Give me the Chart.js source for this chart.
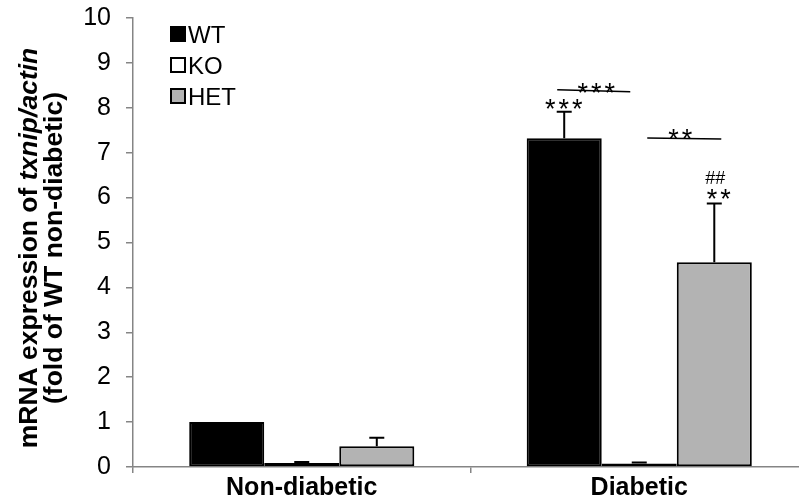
<!DOCTYPE html>
<html>
<head>
<meta charset="utf-8">
<script src="https://cdn.jsdelivr.net/npm/chart.js@4/dist/chart.umd.min.js"></script>
<style>
  html, body { margin: 0; padding: 0; background: #fff; overflow: hidden; }
  #wrap { width: 810px; height: 500px; position: relative; }
</style>
</head>
<body>
<div id="wrap"><canvas id="c" width="810" height="500"></canvas></div>
<script>
// Groups and genotypes
const categories = ['Non-diabetic', 'Diabetic'];
const genotypes = ['WT', 'KO', 'HET'];

// Mean txnip/actin expression (fold of WT non-diabetic) and SEM
const wtMean  = [1.00, 7.32];
const wtErr   = [0.00, 0.59];
const koMean  = [0.09, 0.08];
const koErr   = [0.02, 0.02];
const hetMean = [0.46, 4.56];
const hetErr  = [0.19, 1.31];

const yTicks = [0, 1, 2, 3, 4, 5, 6, 7, 8, 9, 10];

const FONT = '"Liberation Sans", Arial, sans-serif';
const AXIS_GREY = '#858585';

const fills   = ['#000000', '#ffffff', '#b3b3b3'];
const means   = [wtMean, koMean, hetMean];
const errs    = [wtErr, koErr, hetErr];

// Upward error bars for every bar
const errorBars = {
  id: 'errorBars',
  afterDatasetsDraw(chart) {
    const ctx = chart.ctx;
    const y = chart.scales.y;
    ctx.save();
    ctx.strokeStyle = '#000';
    ctx.lineWidth = 2;
    chart.data.datasets.forEach((ds, di) => {
      const meta = chart.getDatasetMeta(di);
      meta.data.forEach((bar, i) => {
        const e = errs[di][i];
        if (!e) return;
        const top = y.getPixelForValue(means[di][i] + e);
        const base = y.getPixelForValue(means[di][i]);
        ctx.beginPath();
        ctx.moveTo(bar.x, base);
        ctx.lineTo(bar.x, top);
        ctx.moveTo(bar.x - 7.5, top);
        ctx.lineTo(bar.x + 7.5, top);
        ctx.stroke();
      });
    });
    ctx.restore();
  }
};

// Significance marks above the diabetic bars
const significance = {
  id: 'significance',
  afterDatasetsDraw(chart) {
    const ctx = chart.ctx;
    const y = chart.scales.y;
    const bx = (di, i) => chart.getDatasetMeta(di).data[i].x;
    ctx.save();
    ctx.fillStyle = '#000';
    ctx.strokeStyle = '#000';
    ctx.lineWidth = 1.5;
    ctx.textAlign = 'center';
    ctx.textBaseline = 'alphabetic';
    ctx.font = '27px ' + FONT;
    ctx.letterSpacing = '3px';

    // stars over WT diabetic
    const wtTop = y.getPixelForValue(wtMean[1] + wtErr[1]);
    ctx.fillText('***', bx(0, 1) + 1, wtTop + 6);

    // WT vs KO bracket
    const l1 = y.getPixelForValue(8.38);
    ctx.beginPath();
    ctx.moveTo(bx(0, 1) - 7, l1 - 1);
    ctx.lineTo(bx(1, 1) - 9, l1 + 1);
    ctx.stroke();
    ctx.fillText('***', (bx(0, 1) + bx(1, 1)) / 2 - 4, l1 + 11);

    // KO vs HET bracket
    const l2 = y.getPixelForValue(7.33);
    ctx.beginPath();
    ctx.moveTo(bx(1, 1) + 8, l2);
    ctx.lineTo(bx(2, 1) + 7, l2 + 1);
    ctx.stroke();
    ctx.fillText('**', (bx(1, 1) + bx(2, 1)) / 2 + 5, l2 + 10);

    // stars and hashes over HET diabetic
    const hetTop = y.getPixelForValue(hetMean[1] + hetErr[1]);
    ctx.fillText('**', bx(2, 1) + 6, hetTop + 5);
    ctx.letterSpacing = '0px';
    ctx.font = '18px ' + FONT;
    ctx.fillText('##', bx(2, 1) + 1, hetTop - 19);
    ctx.restore();
  }
};

// Legend in the upper-left corner of the plot
const cornerLegend = {
  id: 'cornerLegend',
  afterDraw(chart) {
    const ctx = chart.ctx;
    ctx.save();
    ctx.font = '24px ' + FONT;
    ctx.textBaseline = 'middle';
    ctx.textAlign = 'left';
    chart.data.datasets.forEach((ds, i) => {
      const cy = 34 + i * 31;
      ctx.fillStyle = ds.backgroundColor;
      ctx.fillRect(171, cy - 7, 14, 14);
      ctx.strokeStyle = '#000';
      ctx.lineWidth = 2;
      ctx.strokeRect(171, cy - 7, 14, 14);
      ctx.fillStyle = '#000';
      ctx.fillText(ds.label, 188, cy + 2);
    });
    ctx.restore();
  }
};

// Two-line rotated y-axis title with italic gene names
const yTitle = {
  id: 'yTitle',
  afterDraw(chart) {
    const ctx = chart.ctx;
    const cy = 248;
    ctx.save();
    ctx.fillStyle = '#000';
    ctx.textBaseline = 'middle';
    const size = 26.5;
    const boldF = 'bold ' + size + 'px ' + FONT;
    const italF = 'italic bold ' + size + 'px ' + FONT;
    const drawLine = (parts, x) => {
      let total = 0;
      parts.forEach(p => { ctx.font = p[1]; total += ctx.measureText(p[0]).width; });
      ctx.save();
      ctx.translate(x, cy);
      ctx.rotate(-Math.PI / 2);
      let cx = -total / 2;
      ctx.textAlign = 'left';
      parts.forEach(p => { ctx.font = p[1]; ctx.fillText(p[0], cx, 0); cx += ctx.measureText(p[0]).width; });
      ctx.restore();
    };
    drawLine([['mRNA expression of ', boldF], ['txnip/actin', italF]], 30);
    drawLine([['(fold of WT non-diabetic)', boldF]], 55);
    ctx.restore();
  }
};

const datasets = genotypes.map((g, i) => ({
  label: g,
  data: means[i],
  backgroundColor: fills[i],
  borderColor: '#000',
  borderWidth: 2,
  borderSkipped: false,
  categoryPercentage: 0.667,
  barPercentage: 1.0
}));

new Chart(document.getElementById('c'), {
  type: 'bar',
  data: { labels: categories, datasets },
  options: {
    responsive: false,
    animation: false,
    layout: { padding: { top: 18, right: 2, left: 0, bottom: 0 } },
    plugins: { legend: { display: false }, tooltip: { enabled: false } },
    scales: {
      x: {
        grid: { display: true, drawOnChartArea: false, offset: true, color: AXIS_GREY, tickLength: 6, lineWidth: 1.5 },
        border: { color: AXIS_GREY, width: 1.5 },
        ticks: { color: '#000', font: { family: FONT, size: 25, weight: 'bold' }, padding: 0 },
        afterFit(s) { s.height = 33; s.paddingLeft = 0; s.paddingRight = 0; }
      },
      y: {
        min: 0, max: 10,
        afterBuildTicks(s) { s.ticks = yTicks.map(v => ({ value: v })); },
        grid: { drawOnChartArea: false, color: AXIS_GREY, tickLength: 7, lineWidth: 1.5 },
        border: { color: AXIS_GREY, width: 1.5 },
        ticks: { color: '#000', font: { family: FONT, size: 25 }, padding: 15 },
        afterFit(s) { s.width = 133; s.paddingTop = 0; s.paddingBottom = 0; }
      }
    }
  },
  plugins: [errorBars, significance, cornerLegend, yTitle]
});
</script>
</body>
</html>
